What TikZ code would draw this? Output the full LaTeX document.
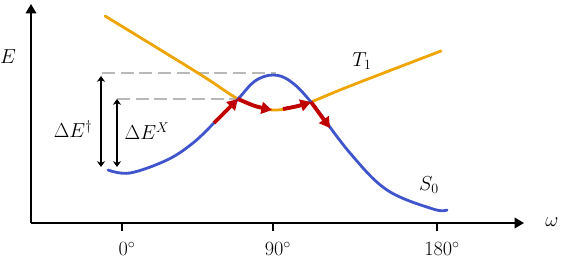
\documentclass[tikz,border=0pt]{standalone}
\usepackage{amsmath, amssymb}
\usetikzlibrary{arrows.meta, positioning}
\definecolor{tripletOrange}{RGB}{238,165,0}
\definecolor{groundBlue}{RGB}{64,84,204}
\definecolor{hopRed}{RGB}{192,0,0}

\begin{document}
\begin{tikzpicture}[x=0.03cm, y=-0.03cm, >={Stealth[scale=0.95]}, font=\fontsize{17}{20}\selectfont]
        \tikzstyle{axis} = [line width=1.6pt, -{Triangle[length=8pt, width=9pt]}]
        \tikzstyle{curve} = [line width=2.4pt, line cap=round]
        \tikzstyle{hop} = [hopRed, line width=3.3pt, -{Triangle[length=9pt, width=10pt]}]
        \tikzstyle{level} = [gray!55, line width=1.3pt, dash pattern=on 11pt off 5pt]
        \tikzstyle{gap} = [line width=1pt, {Stealth[length=5pt, width=7pt]}-{Stealth[length=5pt, width=7pt]}]

        \useasboundingbox (0,0) rectangle (562,260);

        % axes
        \coordinate (origin) at (31,223);
        \coordinate (ytip) at (31,4);
        \coordinate (xtip) at (524,223);
        \draw[axis] (origin) -- (ytip);
        \draw[axis] (origin) -- (xtip);
        \node (elabel) at (8,57) {$E$};
        \node (wlabel) at (552,222) {$\omega$};
        \foreach \x/\deg in {122/0, 273/90, 437/180} {
            \draw[line width=1.4pt] (\x,223) -- (\x,231);
            \node (tick\deg) at (\x+5,249) {$\deg^{\circ}$};
        }

        % energy levels
        \coordinate (crossA) at (238,99);
        \coordinate (crossB) at (311,102);
        \coordinate (peak) at (276,73);
        \draw[level] (102,73) -- (peak);
        \draw[level] (117,99) -- (crossA);

        % curves
        \draw[curve, tripletOrange] plot[smooth, tension=0.6] coordinates {(105,16) (198,73) (238,99) (262,108) (277,110) (295,107) (311,102) (350,86) (441,51)};
        \draw[curve, groundBlue] plot[smooth, tension=0.6] coordinates {(108,170) (130,173) (167,160) (193,143) (215,122) (238,99) (255,81) (273,75) (290,81) (311,102) (350,153) (387,190) (433,209) (447,210)};
        \node (T1) at (362,61) {$T_1$};
        \node (S0) at (429,185) {$S_0$};

        % pathway
        \coordinate (climb) at (214,123);
        \coordinate (dipA) at (272,110);
        \coordinate (dipB) at (283,109);
        \coordinate (fall) at (330,128);
        \draw[hop] (climb) -- (crossA);
        \draw[hop] plot[smooth] coordinates {(crossA) (255,106) (dipA)};
        \draw[hop] plot[smooth] coordinates {(dipB) (298,106) (crossB)};
        \draw[hop] (crossB) -- (fall);

        % barriers
        \coordinate (dagTop) at (101,76);
        \coordinate (dagBot) at (101,167);
        \coordinate (xTop) at (117,99);
        \coordinate (xBot) at (117,167);
        \draw[gap] (dagTop) -- (dagBot);
        \draw[gap] (xTop) -- (xBot);
        \node (dEdag) at (73,129) {$\Delta E^{\dagger}$};
        \node (dEX) at (147,131) {$\Delta E^{X}$};
    \end{tikzpicture}
\end{document}
